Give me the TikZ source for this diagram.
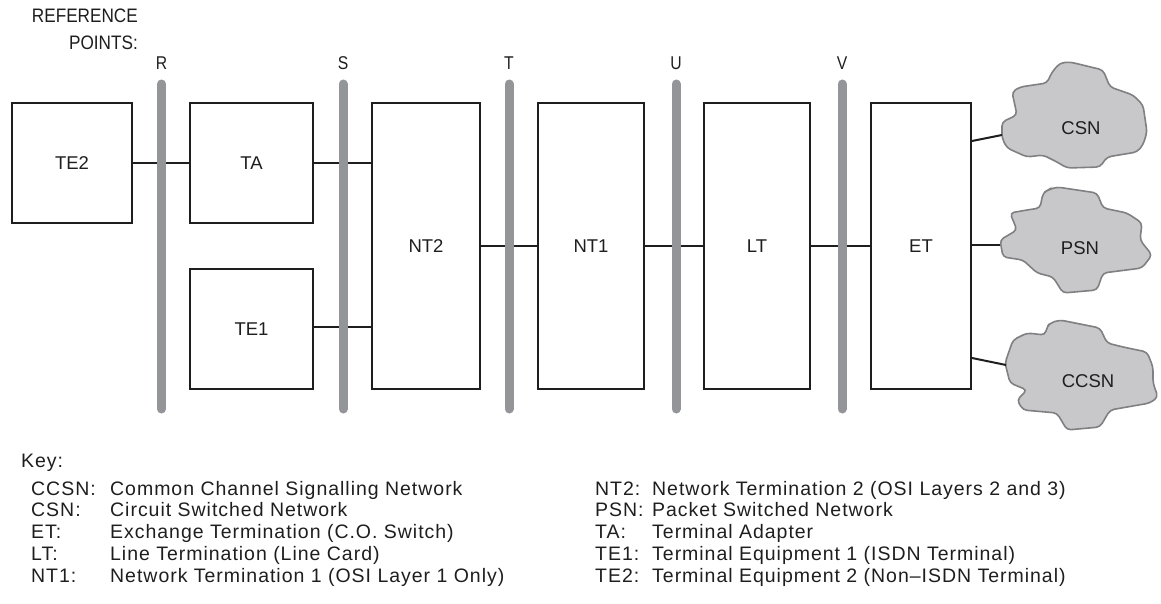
\documentclass[tikz,border=0pt]{standalone}
\usepackage{fontspec}
\setmainfont{Liberation Sans}
\newfontfamily\keyfont[LetterSpace=5]{Liberation Sans}
\definecolor{bargray}{RGB}{148,149,153}
\definecolor{cloudfill}{RGB}{200,200,202}
\definecolor{cloudline}{RGB}{128,128,130}
\definecolor{ink}{RGB}{30,30,30}
\begin{document}
\begin{tikzpicture}[x=1pt,y=-1pt,
  font=\fontsize{18.5}{22}\selectfont,
  box/.style={draw=ink,line width=2pt,inner sep=0pt,text=ink},
  wire/.style={draw=ink,line width=2pt},
  refbar/.style={draw=bargray,line width=9pt,line cap=round},
  cloudshape/.style={draw=cloudline,fill=cloudfill,line width=1.6pt,rounded corners=4pt},
  reflabel/.style={inner sep=0pt,anchor=base,text=ink},
  keylbl/.style={inner sep=0pt,anchor=base west,text=ink,font=\keyfont\fontsize{19.5}{22}\selectfont}]
\useasboundingbox (0,0) rectangle (1161,604);

% heading
\node[inner sep=0pt,anchor=base east,text=ink,font=\fontsize{19.5}{22}\selectfont] (hdr1) at (138,23) {\scalebox{0.88}[1]{REFERENCE}};
\node[inner sep=0pt,anchor=base east,text=ink,font=\fontsize{19.5}{22}\selectfont] (hdr2) at (138,50) {\scalebox{0.88}[1]{POINTS:}};

% boxes
\node[box,minimum width=120pt,minimum height=120pt] (te2) at (72,163) {TE2};
\node[box,minimum width=123pt,minimum height=120pt] (ta) at (251.5,163) {TA};
\node[box,minimum width=123pt,minimum height=120pt] (te1) at (251.5,329) {TE1};
\node[box,minimum width=108pt,minimum height=286pt] (nt2) at (426,246) {NT2};
\node[box,minimum width=106pt,minimum height=286pt] (nt1) at (591,246) {NT1};
\node[box,minimum width=106pt,minimum height=286pt] (lt) at (757,246) {LT};
\node[box,minimum width=100pt,minimum height=286pt] (et) at (921,246) {ET};

% clouds
\path[cloudshape] (1060,63) -- (1070,62) -- (1103,70) -- (1110,87) -- (1133,95) -- (1143,105)
  -- (1147,132) -- (1143,145) -- (1137,152) -- (1107,157) -- (1100,167) -- (1067,168)
  -- (1057,162) -- (1043,155) -- (1027,157) -- (1007,148) -- (1002,138) -- (1002,122)
  -- (1017,115) -- (1012,92) -- (1020,87) -- (1047,83) -- (1052,72) -- cycle;
\path[cloudshape] (1048,190) -- (1057,187) -- (1097,193) -- (1103,208) -- (1127,213) -- (1142,223)
  -- (1140,240) -- (1152,255) -- (1142,268) -- (1103,273) -- (1097,290) -- (1063,293)
  -- (1053,277) -- (1037,273) -- (1023,260) -- (1003,257) -- (1000,240) -- (1017,230)
  -- (1010,213) -- (1027,210) -- (1040,208) -- (1043,193) -- cycle;
\path[cloudshape] (1050,323) -- (1060,320) -- (1100,328) -- (1107,343) -- (1123,347) -- (1147,352)
  -- (1153,367) -- (1153,383) -- (1158,397) -- (1150,403) -- (1110,410) -- (1100,427)
  -- (1067,430) -- (1057,413) -- (1023,410) -- (1017,400) -- (1027,390) -- (1010,383)
  -- (1005,363) -- (1013,340) -- (1027,333) -- (1045,335) -- (1047,327) -- cycle;
\node[inner sep=0pt,text=ink] (csn) at (1081,128) {CSN};
\node[inner sep=0pt,text=ink] (psn) at (1080,248) {PSN};
\node[inner sep=0pt,text=ink] (ccsn) at (1088,381) {CCSN};
\coordinate (csnin) at (1002,135);
\coordinate (psnin) at (1000,245);
\coordinate (ccsnin) at (1006,365);

% connectors
\draw[wire] (te2.east) -- (ta.west);
\draw[wire] (ta.east) -- (ta.east -| nt2.west);
\draw[wire] (te1.east |- 0,327) -- (nt2.west |- 0,327);
\draw[wire] (nt2.east) -- (nt1.west);
\draw[wire] (nt1.east) -- (lt.west);
\draw[wire] (lt.east) -- (et.west);
\draw[wire] (et.east |- 0,141) -- (csnin);
\draw[wire] (et.east |- psnin) -- (psnin);
\draw[wire] (et.east |- 0,358) -- (ccsnin);

% reference bars
\foreach \nm/\xx in {R/161.5,S/343,T/509,U/676,V/842}{
  \coordinate (bar\nm top) at (\xx,84);
  \coordinate (bar\nm bot) at (\xx,409);
  \draw[refbar] (bar\nm top) -- (bar\nm bot);
  \node[reflabel] (lab\nm) at (\xx,70) {\scalebox{0.85}[1]{\nm}};
}

% key
\node[keylbl] (key) at (21,467) {Key:};
\foreach \i/\ab/\tx in {0/CCSN:/Common Channel Signalling Network,
                        1/CSN:/Circuit Switched Network,
                        2/ET:/Exchange Termination (C.O. Switch),
                        3/LT:/Line Termination (Line Card),
                        4/NT1:/Network Termination 1 (OSI Layer 1 Only)}{
  \node[keylbl] (ka\i) at (31,495+21.75*\i) {\ab};
  \node[keylbl] (kt\i) at (110,495+21.75*\i) {\tx};
}
\foreach \i/\ab/\tx in {0/NT2:/Network Termination 2 (OSI Layers 2 and 3),
                        1/PSN:/Packet Switched Network,
                        2/TA:/Terminal Adapter,
                        3/TE1:/Terminal Equipment 1 (ISDN Terminal),
                        4/TE2:/Terminal Equipment 2 (Non–ISDN Terminal)}{
  \node[keylbl] (kb\i) at (595,495+21.75*\i) {\ab};
  \node[keylbl] (ku\i) at (652,495+21.75*\i) {\tx};
}
\end{tikzpicture}
\end{document}
